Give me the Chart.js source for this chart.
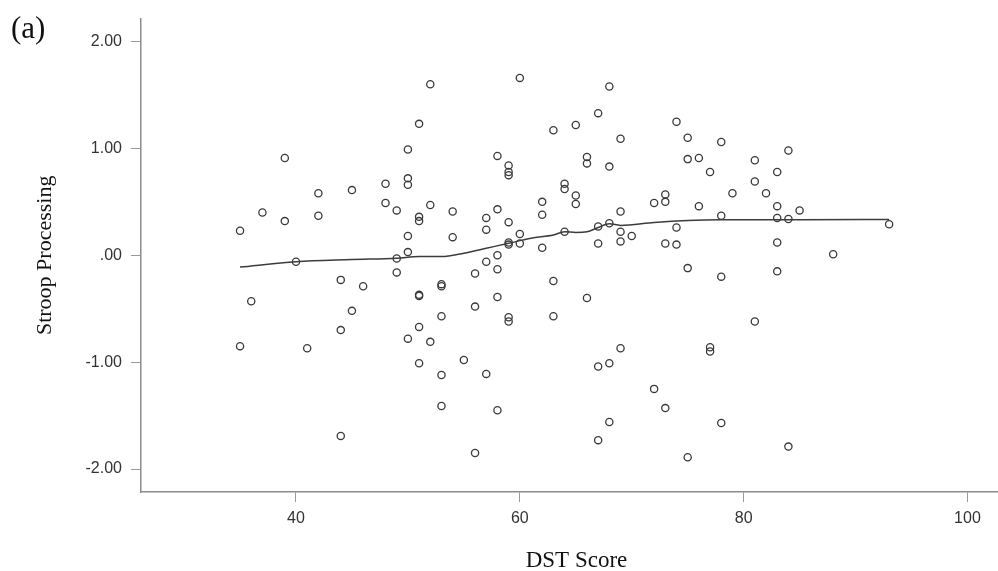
<!DOCTYPE html>
<html>
<head>
<meta charset="utf-8">
<script src="https://cdn.jsdelivr.net/npm/chart.js@4/dist/chart.umd.min.js"></script>
<style>
html, body { margin: 0; padding: 0; background: #fff; overflow: hidden; }
#wrap { width: 1012px; height: 571px; }
</style>
</head>
<body>
<div id="wrap"><canvas id="c" width="1012" height="571"></canvas></div>
<script>
// DST Score (x) of each participant
const dstScore = [
  52, 51, 50, 39, 50, 50, 48, 45, 42, 48, 49, 52, 51, 51, 37, 39, 42, 35, 50, 50,
  40, 49, 49, 44, 46, 51, 51, 36, 45, 44, 51, 50, 52, 35, 41, 51, 44, 60, 68, 67,
  63, 65, 74, 69, 75, 78, 58, 59, 59, 59, 66, 66, 68, 75, 76, 77, 64, 64, 65, 65,
  73, 73, 72, 76, 78, 54, 54, 57, 57, 58, 59, 59, 59, 60, 60, 62, 62, 62, 64, 67,
  67, 68, 69, 69, 69, 70, 73, 74, 74, 58, 57, 58, 56, 53, 53, 58, 56, 53, 59, 59,
  63, 63, 66, 75, 78, 55, 53, 57, 53, 58, 56, 67, 68, 69, 72, 73, 68, 67, 75, 77,
  77, 78, 84, 81, 83, 81, 79, 82, 83, 85, 83, 84, 93, 83, 88, 83, 81, 84
];
// Stroop Processing (y) of each participant
const stroopProcessing = [
  1.60, 1.23, 0.99, 0.91, 0.72, 0.66, 0.67, 0.61, 0.58, 0.49, 0.42, 0.47, 0.36, 0.32, 0.40, 0.32, 0.37, 0.23, 0.18, 0.03,
  -0.06, -0.03, -0.16, -0.23, -0.29, -0.37, -0.38, -0.43, -0.52, -0.70, -0.67, -0.78, -0.81, -0.85, -0.87, -1.01, -1.69, 1.66, 1.58, 1.33,
  1.17, 1.22, 1.25, 1.09, 1.10, 1.06, 0.93, 0.84, 0.78, 0.75, 0.92, 0.86, 0.83, 0.90, 0.91, 0.78, 0.67, 0.62, 0.56, 0.48,
  0.57, 0.50, 0.49, 0.46, 0.37, 0.41, 0.17, 0.35, 0.24, 0.43, 0.31, 0.12, 0.10, 0.20, 0.11, 0.50, 0.38, 0.07, 0.22, 0.27,
  0.11, 0.30, 0.41, 0.22, 0.13, 0.18, 0.11, 0.26, 0.10, 0.00, -0.06, -0.13, -0.17, -0.27, -0.29, -0.39, -0.48, -0.57, -0.58, -0.62,
  -0.24, -0.57, -0.40, -0.12, -0.20, -0.98, -1.12, -1.11, -1.41, -1.45, -1.85, -1.04, -1.01, -0.87, -1.25, -1.43, -1.56, -1.73, -1.89, -0.86,
  -0.90, -1.57, 0.98, 0.89, 0.78, 0.69, 0.58, 0.58, 0.46, 0.42, 0.35, 0.34, 0.29, 0.12, 0.01, -0.15, -0.62, -1.79
];
// Fit line (loess)
const fitX = [35, 40, 45, 49, 51, 53, 55, 57, 59, 61, 63, 64, 65, 66, 67, 68, 69, 72, 75, 78, 85, 93];
const fitY = [-0.11, -0.06, -0.04, -0.027, -0.012, -0.012, 0.02, 0.066, 0.112, 0.16, 0.19, 0.22, 0.214, 0.22, 0.26, 0.295, 0.28, 0.307, 0.325, 0.332, 0.333, 0.335];

const xTicks = [40, 60, 80, 100];
const yTicks = [-2, -1, 0, 1, 2];
const yTickLabels = ['-2.00', '-1.00', '.00', '1.00', '2.00'];

const xTitle = 'DST Score';
const yTitle = 'Stroop Processing';
const panelLabel = '(a)';

const points = dstScore.map((x, i) => ({ x: x, y: stroopProcessing[i] }));
const fitLine = fitX.map((x, i) => ({ x: x, y: fitY[i] }));

const panelLabelPlugin = {
  id: 'panelLabel',
  afterDraw(chart) {
    const ctx = chart.ctx;
    ctx.save();
    ctx.font = '31px "Liberation Serif"';
    ctx.fillStyle = '#111';
    ctx.textBaseline = 'middle';
    ctx.textAlign = 'left';
    ctx.fillText(panelLabel, 11, 30);
    ctx.restore();
  }
};
const bgPlugin = {
  id: 'bg',
  beforeDraw(chart) {
    const ctx = chart.ctx;
    ctx.save();
    ctx.fillStyle = '#fff';
    ctx.fillRect(0, 0, chart.width, chart.height);
    ctx.restore();
  }
};

new Chart(document.getElementById('c'), {
  type: 'scatter',
  data: {
    datasets: [
      {
        label: 'Stroop Processing',
        data: points,
        showLine: false,
        pointRadius: 3.6,
        pointBorderWidth: 1.3,
        pointBorderColor: '#3a3a3a',
        pointBackgroundColor: 'rgba(0,0,0,0)',
        order: 2
      },
      {
        label: 'Fit',
        data: fitLine,
        showLine: true,
        pointRadius: 0,
        borderColor: '#3c3c3c',
        borderWidth: 1.5,
        cubicInterpolationMode: 'monotone',
        fill: false,
        order: 1
      }
    ]
  },
  options: {
    responsive: false,
    devicePixelRatio: 1,
    animation: false,
    layout: { autoPadding: false, padding: { left: 0, right: 0, top: 15, bottom: 0 } },
    plugins: {
      legend: { display: false },
      tooltip: { enabled: false },
      title: { display: false }
    },
    scales: {
      x: {
        type: 'linear',
        position: 'bottom',
        min: 26.15,
        max: 103.98,
        afterFit: (s) => { s.height = 79; },
        afterBuildTicks: (s) => { s.ticks = xTicks.map(v => ({ value: v })); },
        ticks: {
          padding: 7,
          color: '#333',
          font: { family: '"Liberation Sans"', size: 16 },
          callback: (v) => String(v)
        },
        grid: { drawOnChartArea: false, drawTicks: true, tickLength: 10, color: '#999', lineWidth: 1 },
        border: { display: true, color: '#8c8c8c', width: 1.5 },
        title: {
          display: true,
          text: xTitle,
          color: '#111',
          font: { family: '"Liberation Serif"', size: 23, lineHeight: 1 },
          padding: { top: 0, bottom: -1 }
        }
      },
      y: {
        type: 'linear',
        position: 'left',
        min: -2.215,
        max: 2.215,
        afterFit: (s) => { s.width = 141; },
        afterBuildTicks: (s) => { s.ticks = yTicks.map(v => ({ value: v })); },
        ticks: {
          padding: 9,
          color: '#333',
          font: { family: '"Liberation Sans"', size: 16 },
          callback: (v) => { const i = yTicks.indexOf(v); return i >= 0 ? yTickLabels[i] : ''; }
        },
        grid: { drawOnChartArea: false, drawTicks: true, tickLength: 10, color: '#999', lineWidth: 1 },
        border: { display: true, color: '#8c8c8c', width: 1.5 },
        title: {
          display: true,
          text: yTitle,
          color: '#111',
          font: { family: '"Liberation Serif"', size: 22, lineHeight: 1 },
          padding: { top: 34, bottom: 0 }
        }
      }
    }
  },
  plugins: [bgPlugin, panelLabelPlugin]
});
</script>
</body>
</html>
